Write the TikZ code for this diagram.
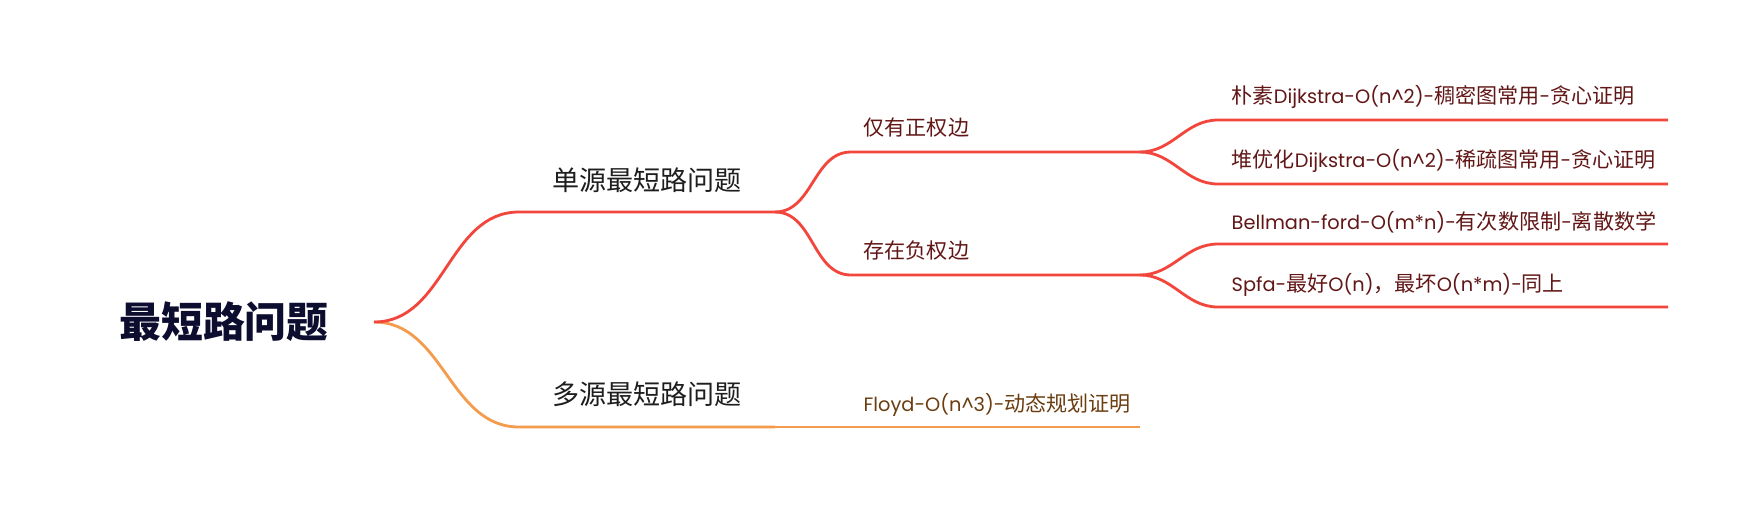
\documentclass[tikz,border=0pt]{standalone}
\usepackage{fontspec}
\setmainfont{Poppins}
\newfontfamily\cjk{Noto Sans CJK SC}
\newfontfamily\cjks[Scale=1.09]{Noto Sans CJK SC}
\usetikzlibrary{positioning}

\definecolor{rootblue}{HTML}{0D0D30}
\definecolor{mainblack}{HTML}{1E1E1E}
\definecolor{branchred}{HTML}{F2463D}
\definecolor{branchorange}{HTML}{F49C4E}
\definecolor{subred}{HTML}{621616}
\definecolor{subbrown}{HTML}{6B3D10}

\tikzset{
  rootnode/.style={inner sep=0, text=rootblue, font=\cjk\bfseries\fontsize{11.9}{14}\selectfont},
  mainnode/.style={inner sep=0, text=mainblack, font=\cjk\fontsize{7.7}{9}\selectfont},
  subnode/.style={anchor=west, inner sep=0, text=subred, font=\fontsize{5.5}{7}\selectfont},
  redline/.style={draw=branchred, line width=0.8pt},
  orangeline/.style={draw=branchorange, line width=0.8pt}
}

\begin{document}
\begin{tikzpicture}[x=0.01cm, y=-0.01cm]
    \useasboundingbox[fill=white] (0,0) rectangle (1744,505);

    % line ends
    \coordinate (rootR) at (374,322);
    \coordinate (singleL) at (519,212);  \coordinate (singleR) at (775,212);
    \coordinate (multiL) at (519,427);   \coordinate (multiR) at (775,427);
    \coordinate (posL) at (851,152);     \coordinate (posR) at (1140,152);
    \coordinate (negL) at (851,275);     \coordinate (negR) at (1140,275);
    \coordinate (floydL) at (851,427);   \coordinate (floydR) at (1140,427);
    \coordinate (dijkL) at (1218,120);   \coordinate (dijkR) at (1668,120);
    \coordinate (heapL) at (1218,184);   \coordinate (heapR) at (1668,184);
    \coordinate (bellL) at (1218,244);   \coordinate (bellR) at (1668,244);
    \coordinate (spfaL) at (1218,307);   \coordinate (spfaR) at (1668,307);

    % root
    \node[rootnode] (root) at (224,322) {最短路问题};

    % multi source
    \draw[orangeline] (rootR) to[out=0, in=180] (multiL) -- (multiR);
    \draw[orangeline] (multiR) -- (floydL) -- (floydR);
    \node[mainnode] (multi) at (647,394) {多源最短路问题};
    \node[subnode, text=subbrown] (floyd) at (863,405) {Floyd-O(n\textasciicircum3)-{\cjks 动态规划证明}};

    % single source
    \draw[redline] (rootR) to[out=0, in=180] (singleL) -- (singleR);
    \node[mainnode] (single) at (647,180) {单源最短路问题};

    % positive weights
    \draw[redline] (singleR) to[out=0, in=180] (posL) -- (posR);
    \node[subnode] (pos) at (863,128) {\cjks 仅有正权边};
    \draw[redline] (posR) to[out=0, in=180] (dijkL) -- (dijkR);
    \draw[redline] (posR) to[out=0, in=180] (heapL) -- (heapR);
    \node[subnode] (dijk) at (1231,97) {{\cjks 朴素}Dijkstra-O(n\textasciicircum2)-{\cjks 稠密图常用}-{\cjks 贪心证明}};
    \node[subnode] (heap) at (1231,161) {{\cjks 堆优化}Dijkstra-O(n\textasciicircum2)-{\cjks 稀疏图常用}-{\cjks 贪心证明}};

    % negative weights
    \draw[redline] (singleR) to[out=0, in=180] (negL) -- (negR);
    \node[subnode] (neg) at (863,251) {\cjks 存在负权边};
    \draw[redline] (negR) to[out=0, in=180] (bellL) -- (bellR);
    \draw[redline] (negR) to[out=0, in=180] (spfaL) -- (spfaR);
    \node[subnode] (bell) at (1231,222) {Bellman-ford-O(m*n)-{\cjks 有次数限制}-{\cjks 离散数学}};
    \node[subnode] (spfa) at (1231,285) {Spfa-{\cjks 最好}O(n){\cjks ，最坏}O(n*m)-{\cjks 同上}};
\end{tikzpicture}
\end{document}
